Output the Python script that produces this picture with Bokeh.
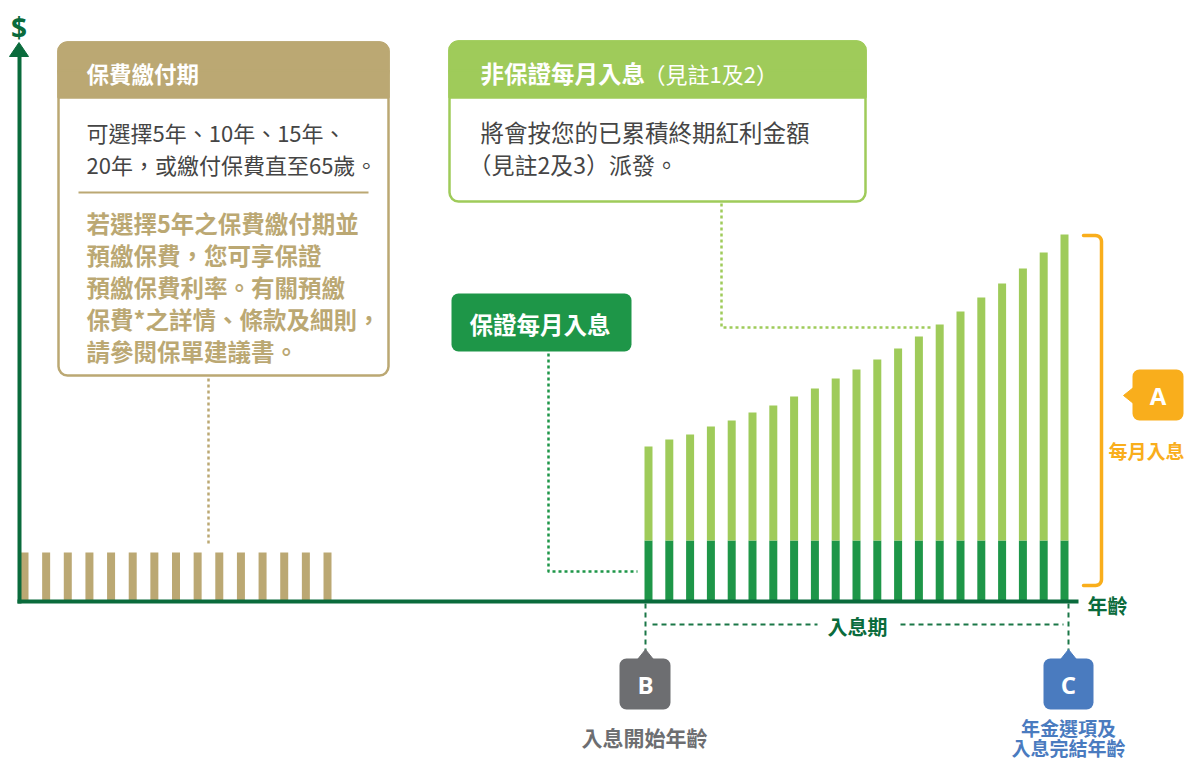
import numpy as np
from bokeh.plotting import figure
from bokeh.models import Range1d, ColumnDataSource
from bokeh.core.properties import value
from bokeh.embed import file_html
from bokeh.resources import INLINE

# ---------------- data ----------------
premium_years = [1, 2, 3, 4, 5, 6, 7, 8, 9, 10, 11, 12, 13, 14, 15]
premium_amount = [49, 49, 49, 49, 49, 49, 49, 49, 49, 49, 49, 49, 49, 49, 49]

income_years = [1, 2, 3, 4, 5, 6, 7, 8, 9, 10, 11, 12, 13, 14, 15, 16, 17, 18, 19, 20, 21]
guaranteed_income = [61, 61, 61, 61, 61, 61, 61, 61, 61, 61, 61, 61, 61, 61, 61, 61, 61, 61, 61, 61, 61]
non_guaranteed_income = [94, 101, 106, 114, 120, 128, 135, 144, 152, 162, 171, 181, 192, 204,
                         216, 229, 243, 257, 272, 288, 306]

# ---------------- text ----------------
premium_title = "保費繳付期"
premium_body = ["可選擇5年、10年、15年、", "20年，或繳付保費直至65歲。"]
premium_note = ["若選擇5年之保費繳付期並", "預繳保費，您可享保證", "預繳保費利率。有關預繳",
                "保費*之詳情、條款及細則，", "請參閱保單建議書。"]
ng_title_bold = "非保證每月入息"
ng_title_note = "（見註1及2）"
ng_body = ["將會按您的已累積終期紅利金額", "（見註2及3）派發。"]
g_title = "保證每月入息"
x_label = "年齡"
period_label = "入息期"
a_label = "每月入息"
b_label = "入息開始年齡"
c_label = ["年金選項及", "入息完結年齡"]

# ---------------- styles ----------------
AXIS = "#0a6b3c"
DARK_GREEN = "#1e9648"
LIGHT_GREEN = "#9fcb5a"
TAN = "#bba873"
ORANGE = "#f9ae1c"
GRAY = "#6d6e71"
BLUE = "#4a7bbf"
TEXT = "#454545"
DASH = "#1a7747"
CJK = "Noto Sans CJK TC"

W, H = 1186, 762
p = figure(width=W, height=H, output_backend="svg", toolbar_location=None,
           x_range=Range1d(1 - 648 / 20.8, 1 - 648 / 20.8 + W / 20.8),
           y_range=Range1d(601 - H, 601),
           x_axis_location=None, y_axis_location=None, min_border=0)
p.grid.visible = False
p.outline_line_color = None
p.background_fill_color = "white"
p.border_fill_color = "white"
p.extra_x_ranges = {"px": Range1d(0, W),
                    "prem": Range1d(1 - 24 / 21.643, 1 - 24 / 21.643 + W / 21.643)}
p.extra_y_ranges = {"px": Range1d(H, 0)}

PX = dict(x_range_name="px", y_range_name="px")


def T(x, y, s, size, color, bold=False, align="left", font=CJK):
    p.text(x=[x], y=[y], text=[s], text_font=value(font), text_font_size=f"{size}px",
           text_color=color, text_font_style="bold" if bold else "normal",
           text_align=align, text_baseline="middle", **PX)


def box(l, r, t, b, fill, line=None, lw=0, radius=0):
    p.quad(left=[l], right=[r], top=[t], bottom=[b], fill_color=fill,
           line_color=line, line_width=lw, border_radius=radius, **PX)


def L(xs, ys, color, width, dash="solid", cap="butt"):
    p.line(xs, ys, line_color=color, line_width=width, line_dash=dash,
           line_cap=cap, line_join="round", **PX)


def tri(xs, ys, color):
    p.patch(xs, ys, fill_color=color, line_color=color, line_width=1, **PX)


# ---- premium box ----
box(58, 388, 42, 375, "white", TAN, 2.5, 9)
box(58, 388, 42, 80, TAN, TAN, 2.5, 9)
box(58, 388, 70, 97, TAN, TAN, 2.5, 0)
T(86, 72, premium_title, 22.5, "white", bold=True)
for i, s in enumerate(premium_body):
    T(86, 131 + 32 * i, s, 22, TEXT)
L([78, 368], [192, 192], TAN, 2)
for i, s in enumerate(premium_note):
    T(86, 222 + 32 * i, s, 23.5, TAN, bold=True)
L([208, 208], [378, 546], TAN, 2.5, "3 3")

# ---- non-guaranteed box ----
box(449, 865, 41, 201, "white", LIGHT_GREEN, 2.5, 9)
box(449, 865, 41, 80, LIGHT_GREEN, LIGHT_GREEN, 2.5, 9)
box(449, 865, 70, 97, LIGHT_GREEN, LIGHT_GREEN, 2.5, 0)
T(480, 72, ng_title_bold, 23.5, "white", bold=True)
T(643, 72, ng_title_note, 22, "white")
T(480, 131, ng_body[0], 23.5, TEXT)
T(468, 163, ng_body[1], 23, TEXT)
L([721, 721, 930], [203, 327, 327], LIGHT_GREEN, 2.5, "3 3")

# ---- guaranteed box ----
box(451, 631, 293, 351, DARK_GREEN, None, 0, 7)
T(469, 323, g_title, 23.5, "white", bold=True)
L([548, 548, 637], [353, 571, 571], DARK_GREEN, 2.5, "3 3")

# ---- bars ----
p.vbar(x=premium_years, top=premium_amount, bottom=0, width=8 / 21.643,
       fill_color=TAN, line_color=None, x_range_name="prem")
src = ColumnDataSource(dict(year=income_years, guaranteed=guaranteed_income,
                            non_guaranteed=non_guaranteed_income))
p.vbar_stack(["guaranteed", "non_guaranteed"], x="year", width=8 / 20.8,
             fill_color=[DARK_GREEN, LIGHT_GREEN], line_color=None, source=src)

# ---- axes ----
L([19, 19], [56, 603], AXIS, 4)
L([17, 1078], [601, 601], AXIS, 4)
tri([9, 28, 18.5], [56, 56, 42], AXIS)
T(18.5, 26, "$", 28, AXIS, bold=True, align="center", font="Noto Sans")
T(1087, 605, x_label, 20, AXIS, bold=True)

# ---- income period ----
L([645, 645], [603, 650], DASH, 2, "5 4")
L([1068, 1068], [603, 650], DASH, 2, "5 4")
L([652, 817], [624, 624], DASH, 2, "5 4")
L([900, 1063], [624, 624], DASH, 2, "5 4")
T(857, 626, period_label, 20, AXIS, bold=True, align="center")

# ---- B ----
box(619, 670, 658, 709, GRAY, None, 0, 7)
tri([637, 653, 645], [659, 659, 649], GRAY)
T(645, 684, "B", 24, "white", bold=True, align="center", font="Open Sans")
T(644, 736, b_label, 21, GRAY, bold=True, align="center")

# ---- C ----
box(1043, 1093, 658, 709, BLUE, None, 0, 7)
tri([1060, 1076, 1068], [659, 659, 649], BLUE)
T(1068, 727, c_label[0], 19, BLUE, bold=True, align="center")
T(1068, 747, c_label[1], 19, BLUE, bold=True, align="center")
T(1068, 684, "C", 24, "white", bold=True, align="center", font="Open Sans")

# ---- A bracket ----
r = 6
t1 = np.linspace(-np.pi / 2, 0, 8)
t2 = np.linspace(0, np.pi / 2, 8)
bx = [1083] + list(1095 + r * np.cos(t1)) + list(1095 + r * np.cos(t2)) + [1083]
by = [235] + list(241 + r * np.sin(t1)) + list(579 + r * np.sin(t2)) + [585]
L(bx, by, ORANGE, 3.5, cap="round")
box(1132, 1183, 369, 420, ORANGE, None, 0, 7)
tri([1133, 1133, 1123], [387, 403, 395], ORANGE)
T(1157.5, 395, "A", 24, "white", bold=True, align="center", font="Open Sans")
T(1108, 450, a_label, 19, ORANGE, bold=True)

open("out.html", "w").write(file_html(p, INLINE))
